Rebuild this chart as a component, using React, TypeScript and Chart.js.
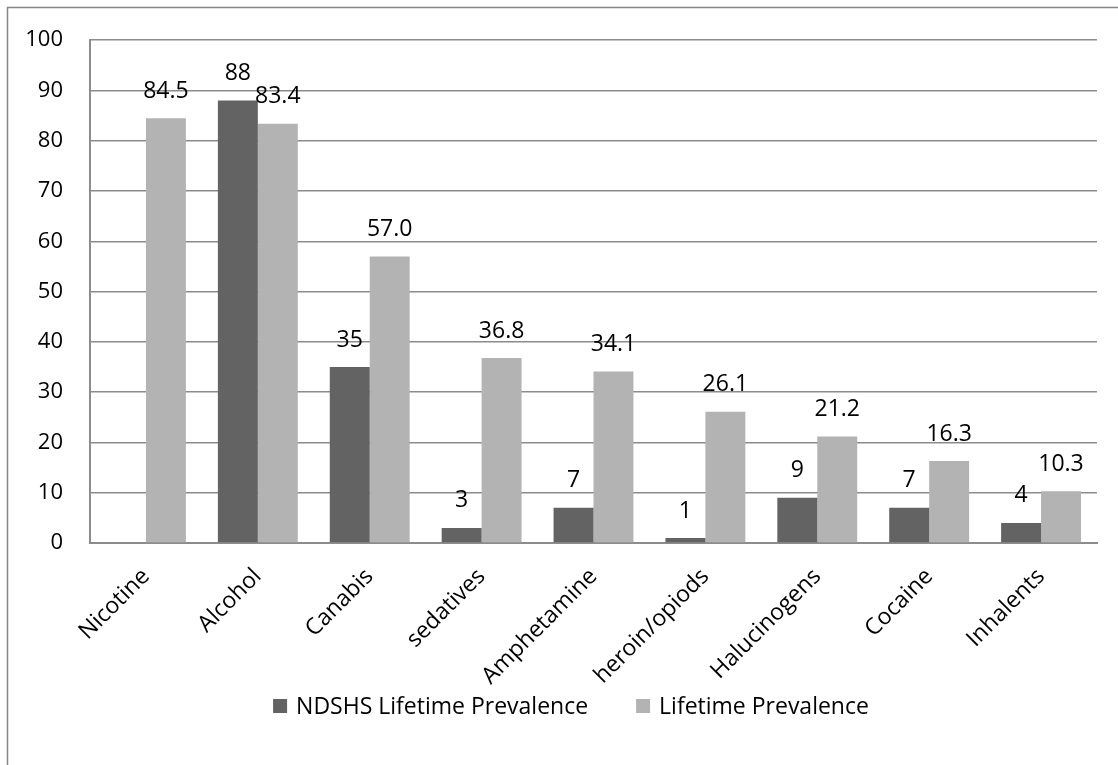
import React, { useEffect, useRef } from "react";
import { Chart, registerables } from "chart.js";

Chart.register(...registerables);

const categories = [
  "Nicotine",
  "Alcohol",
  "Canabis",
  "sedatives",
  "Amphetamine",
  "heroin/opiods",
  "Halucinogens",
  "Cocaine",
  "Inhalents",
];

const ndshsValues: (number | null)[] = [null, 88, 35, 3, 7, 1, 9, 7, 4];
const ndshsLabels: string[] = ["", "88", "35", "3", "7", "1", "9", "7", "4"];

const lifetimeValues: number[] = [84.5, 83.4, 57.0, 36.8, 34.1, 26.1, 21.2, 16.3, 10.3];
const lifetimeLabels: string[] = ["84.5", "83.4", "57.0", "36.8", "34.1", "26.1", "21.2", "16.3", "10.3"];

const seriesNames = ["NDSHS Lifetime Prevalence", "Lifetime Prevalence"];
const seriesColors = ["#636363", "#b3b3b3"];

const FONT = "'Open Sans', 'DejaVu Sans', sans-serif";

// Thin frame around the whole chart (top and left edges visible)
const framePlugin = {
  id: "outerFrame",
  beforeDraw(chart: any) {
    const ctx = chart.ctx;
    ctx.save();
    ctx.strokeStyle = "#868686";
    ctx.lineWidth = 1.5;
    ctx.beginPath();
    ctx.moveTo(7.5, chart.height);
    ctx.lineTo(7.5, 7.5);
    ctx.lineTo(chart.width, 7.5);
    ctx.stroke();
    ctx.restore();
  },
};

// Value labels above each bar
const valueLabelPlugin = {
  id: "valueLabels",
  afterDatasetsDraw(chart: any) {
    const ctx = chart.ctx;
    const labelSets = [ndshsLabels, lifetimeLabels];
    ctx.save();
    ctx.font = `23px ${FONT}`;
    ctx.fillStyle = "#000";
    ctx.textAlign = "center";
    ctx.textBaseline = "middle";
    chart.data.datasets.forEach((ds: any, di: number) => {
      const meta = chart.getDatasetMeta(di);
      meta.data.forEach((el: any, i: number) => {
        const v = ds.data[i];
        if (v === null || v === undefined) return;
        ctx.fillText(labelSets[di][i], el.x, el.y - 27);
      });
    });
    ctx.restore();
  },
};

// Legend row below the rotated category labels
const legendRowPlugin = {
  id: "legendRow",
  afterDraw(chart: any) {
    const ctx = chart.ctx;
    const box = 14;
    const textGap = 9;
    const itemGap = 48;
    const centerX = 571;
    const centerY = 706;
    ctx.save();
    ctx.font = `23px ${FONT}`;
    ctx.textBaseline = "middle";
    ctx.textAlign = "left";
    const items = chart.data.datasets.map((ds: any) => ({
      text: ds.label as string,
      color: ds.backgroundColor as string,
      w: ctx.measureText(ds.label).width,
    }));
    const total =
      items.reduce((s: number, it: any) => s + box + textGap + it.w, 0) + itemGap * (items.length - 1);
    let x = centerX - total / 2;
    items.forEach((it: any) => {
      ctx.fillStyle = it.color;
      ctx.fillRect(x, centerY - box / 2, box, box);
      ctx.fillStyle = "#000";
      ctx.fillText(it.text, x + box + textGap, centerY + 1);
      x += box + textGap + it.w + itemGap;
    });
    ctx.restore();
  },
};

export default function App() {
  const canvasRef = useRef<HTMLCanvasElement | null>(null);

  useEffect(() => {
    if (!canvasRef.current) return;
    const chart = new Chart(canvasRef.current, {
      type: "bar",
      data: {
        labels: categories,
        datasets: [
          {
            label: seriesNames[0],
            data: ndshsValues,
            backgroundColor: seriesColors[0],
            categoryPercentage: 0.714,
            barPercentage: 1.0,
          },
          {
            label: seriesNames[1],
            data: lifetimeValues,
            backgroundColor: seriesColors[1],
            categoryPercentage: 0.714,
            barPercentage: 1.0,
          },
        ],
      },
      options: {
        responsive: false,
        animation: false,
        layout: { padding: { top: 37, right: 21, left: 0, bottom: 0 } },
        plugins: {
          tooltip: { enabled: false },
          legend: { display: false },
        },
        scales: {
          x: {
            grid: { display: false, drawTicks: false },
            border: { display: true, color: "#8c8c8c", width: 2 },
            ticks: {
              color: "#000",
              font: { family: FONT, size: 23 },
              minRotation: 45,
              maxRotation: 45,
              padding: 20,
            },
            afterFit(scale: any) {
              scale.height = 222;
            },
          },
          y: {
            min: 0,
            max: 100,
            grid: { color: "#8c8c8c", lineWidth: 1.5, drawTicks: false },
            border: { display: true, color: "#8c8c8c", width: 2 },
            ticks: {
              stepSize: 10,
              color: "#000",
              font: { family: FONT, size: 22 },
              padding: 27,
            },
            afterFit(scale: any) {
              scale.width = 90;
            },
          },
        },
      },
      plugins: [framePlugin, valueLabelPlugin, legendRowPlugin],
    });
    return () => chart.destroy();
  }, []);

  return (
    <div style={{ position: "fixed", left: 0, top: 0, width: 1118, height: 765, background: "#fff" }}>
      <canvas ref={canvasRef} width={1118} height={765} style={{ display: "block" }} />
    </div>
  );
}
